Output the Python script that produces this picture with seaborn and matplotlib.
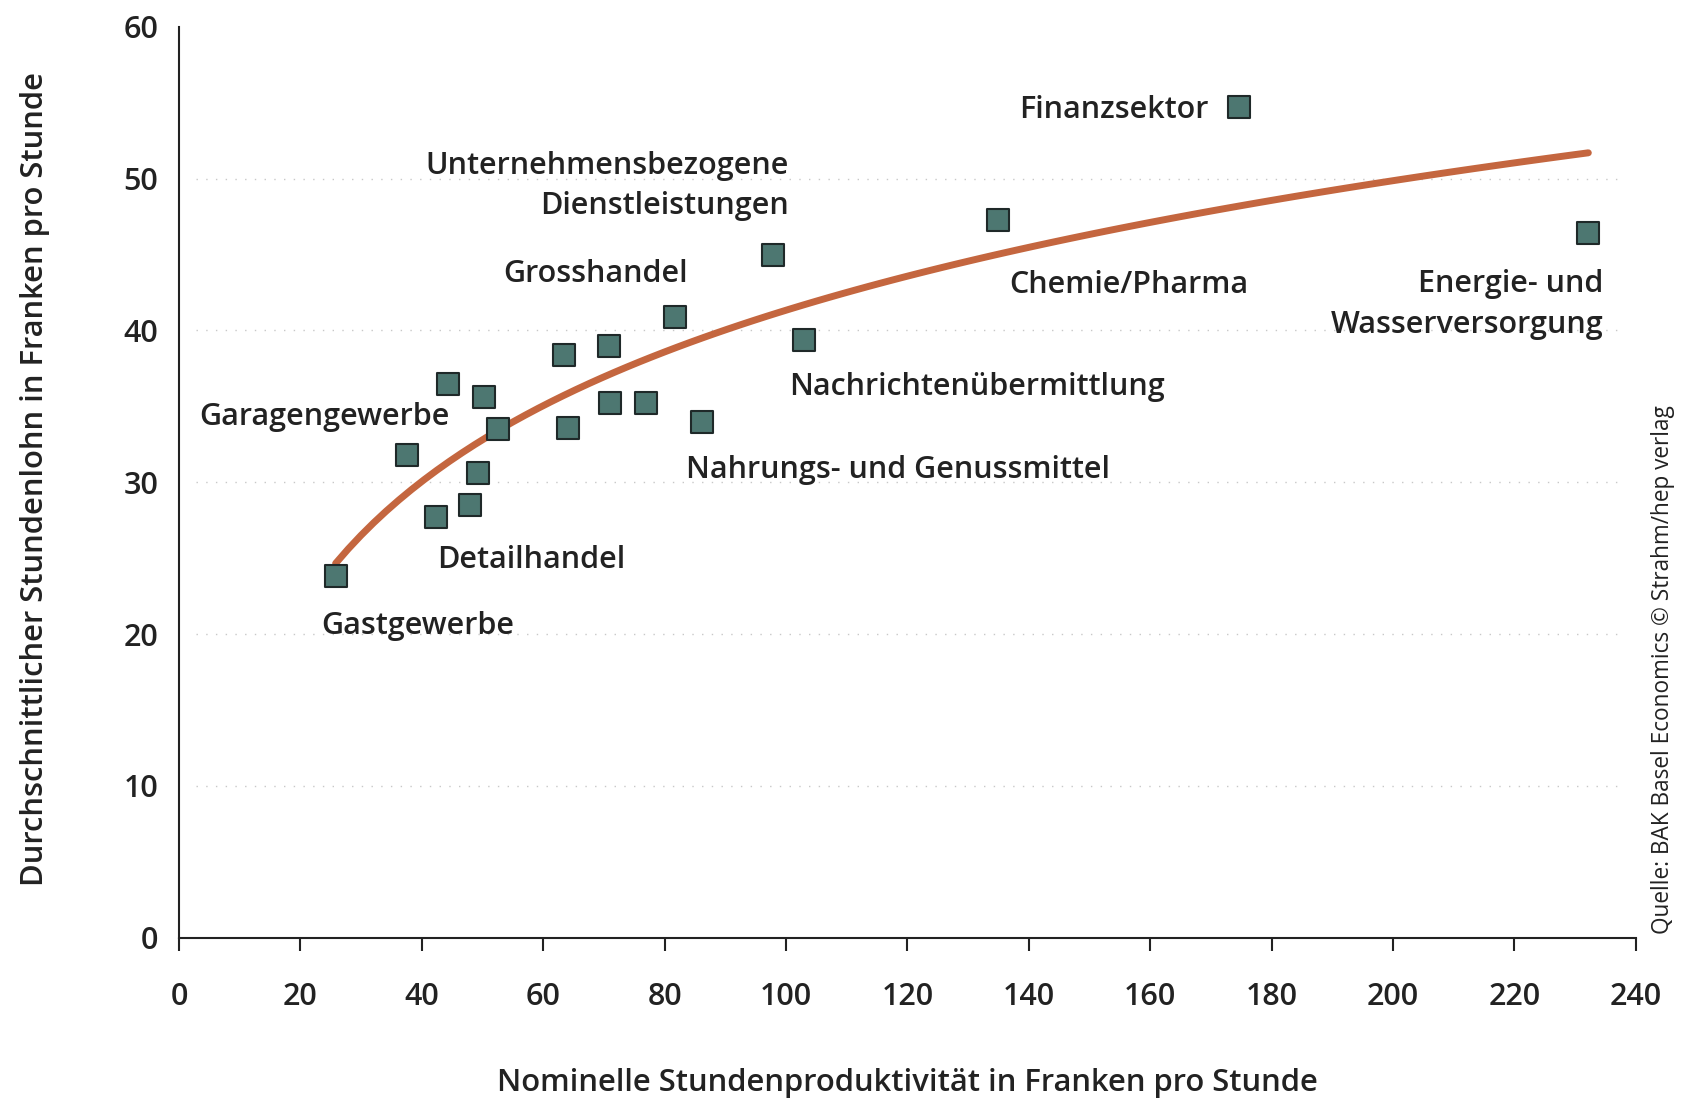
import matplotlib
matplotlib.use("Agg")
import matplotlib.pyplot as plt
import seaborn as sns
import pandas as pd

# Branchen: Stundenproduktivitaet (x) und Stundenlohn (y), in Franken pro Stunde
productivity = [25.8, 37.5, 42.3, 44.4, 48.0, 49.2, 50.3, 52.6, 63.5, 64.1,
                70.8, 71.0, 77.0, 81.8, 86.2, 97.9, 103.0, 134.9, 174.7, 232.2]
wage = [23.8, 31.8, 27.7, 36.5, 28.5, 30.6, 35.6, 33.5, 38.4, 33.6,
        39.0, 35.2, 35.2, 40.9, 34.0, 45.0, 39.4, 47.3, 54.7, 46.4]

label_names = ["Finanzsektor", "Unternehmensbezogene\nDienstleistungen", "Grosshandel",
               "Garagengewerbe", "Detailhandel", "Gastgewerbe", "Nachrichtenübermittlung",
               "Nahrungs- und Genussmittel", "Chemie/Pharma", "Energie- und\nWasserversorgung"]

x_ticks = [0, 20, 40, 60, 80, 100, 120, 140, 160, 180, 200, 220, 240]
y_ticks = [0, 10, 20, 30, 40, 50, 60]

# label anchor (data coords) and alignment
label_pos = [(169.6, 54.5, "right"), (100.5, 49.5, "right"), (83.9, 43.7, "right"),
             (44.6, 34.3, "right"), (42.5, 24.9, "left"), (23.4, 20.5, "left"),
             (100.5, 36.3, "left"), (83.5, 30.8, "left"), (136.8, 43.0, "left"),
             (234.7, 41.7, "right")]

df = pd.DataFrame({"x": productivity, "y": wage})

sns.set_style("ticks")
plt.rcParams["font.family"] = ["Open Sans", "DejaVu Sans"]
text_color = "#222222"

fig = plt.figure(figsize=(16.84, 11), dpi=100)
ax = fig.add_axes([0.1063, 0.1476, 0.865, 0.828])

# trend line: logarithmic fit through the points
sns.regplot(data=df, x="x", y="y", logx=True, scatter=False, ci=None, ax=ax,
            line_kws={"color": "#c4663f", "lw": 5, "solid_capstyle": "round", "zorder": 2})

sns.scatterplot(data=df, x="x", y="y", marker="s", s=270, color="#4d7771",
                edgecolor="#1f2929", linewidth=1.5, ax=ax, zorder=3)

for name, (lx, ly, ha) in zip(label_names, label_pos):
    ax.text(lx, ly, name, ha=ha, va="center", multialignment=ha, fontsize=22,
            fontweight="semibold", color=text_color, linespacing=1.45)

for yv in y_ticks[1:-1]:
    ax.axhline(yv, xmin=0.012, xmax=0.99, color="#c8c8c8", lw=1, ls=(0, (1, 6)), zorder=1)

ax.set_xlim(0, 240)
ax.set_ylim(0, 60)
ax.set_xticks(x_ticks)
ax.set_yticks(y_ticks)
ax.tick_params(axis="x", length=9, width=1.5, pad=23, labelsize=22, colors=text_color)
ax.tick_params(axis="y", length=0, pad=15, labelsize=22, colors=text_color)
for lbl in ax.get_xticklabels() + ax.get_yticklabels():
    lbl.set_fontweight("semibold")
sns.despine(ax=ax)
for side in ["left", "bottom"]:
    ax.spines[side].set_linewidth(1.5)
    ax.spines[side].set_color("#222222")

ax.set_xlabel("Nominelle Stundenproduktivität in Franken pro Stunde", fontsize=22.3,
              fontweight="semibold", color=text_color, va="center")
ax.xaxis.set_label_coords(0.5, -0.16)
ax.set_ylabel("Durchschnittlicher Stundenlohn in Franken pro Stunde", fontsize=22.3,
              fontweight="semibold", color=text_color, va="center")
ax.yaxis.set_label_coords(-0.099, 0.504)

fig.text(0.9875, 0.151, "Quelle: BAK Basel Economics © Strahm/hep verlag", rotation=90,
         ha="center", va="bottom", fontsize=16.3, color=text_color)

fig.savefig("out.png", dpi=100)
